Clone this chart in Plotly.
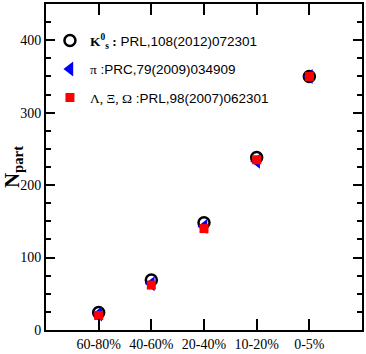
import plotly.graph_objects as go

# centrality classes and N_part values
categories = ["60-80%", "40-60%", "20-40%", "10-20%", "0-5%"]
k0s_npart = [24, 69, 148, 238, 350]
pi_npart = [22, 64, 143, 233, 350]
lam_npart = [20, 62, 140, 235, 350]

names = [
    "<span style='font-family:Liberation Serif'><b>K</b><sup><b>0</b></sup><sub><b>s</b></sub><b> :</b></span> PRL,108(2012)072301",
    "<span style='font-family:Liberation Serif'>π</span> :PRC,79(2009)034909",
    "<span style='font-family:Liberation Serif'>Λ, Ξ, Ω</span> :PRL,98(2007)062301",
]

fig = go.Figure()
fig.add_trace(go.Scatter(
    x=categories, y=k0s_npart, mode="markers", name=names[0], legendgroup="k",
    marker=dict(symbol="circle-open", size=11, color="black", line=dict(width=2.5, color="black")),
))
fig.add_trace(go.Scatter(
    x=categories, y=pi_npart, mode="markers", name=names[1], legendgroup="pi",
    marker=dict(symbol="triangle-left", size=13, color="blue", line=dict(width=0)),
))
fig.add_trace(go.Scatter(
    x=categories, y=lam_npart, mode="markers", name=names[2], legendgroup="lam",
    marker=dict(symbol="square", size=9, color="red", line=dict(width=0)),
))

fig.update_layout(
    width=366, height=354,
    margin=dict(l=44, r=2, t=4, b=21),
    plot_bgcolor="white", paper_bgcolor="white",
    font=dict(family="Liberation Serif", size=13, color="black"),
    legend=dict(
        x=0.0125, y=0.935, xanchor="left", yanchor="top",
        bgcolor="rgba(0,0,0,0)",
        font=dict(family="Liberation Sans", size=13.5, color="black"),
        tracegroupgap=8, itemwidth=30,
    ),
)
fig.update_xaxes(
    type="category", range=[-1, 5],
    showline=True, linecolor="black", linewidth=2, mirror="allticks",
    ticks="inside", ticklen=11, tickwidth=2, tickcolor="black",
    showgrid=False, zeroline=False,
    tickfont=dict(family="Liberation Serif", size=14),
)
fig.update_yaxes(
    range=[0, 450], dtick=100,
    showline=True, linecolor="black", linewidth=2, mirror="allticks",
    ticks="inside", ticklen=9, tickwidth=2, tickcolor="black",
    minor=dict(dtick=25, ticks="inside", ticklen=5, tickwidth=2, tickcolor="black"),
    showgrid=False, zeroline=False,
    tickfont=dict(family="Liberation Serif", size=14),
    title=dict(text="<b>N<sub>part</sub></b>", font=dict(family="Liberation Serif", size=21), standoff=4),
)

fig.write_html("out.html", config={"displayModeBar": False},
               post_script="document.body.style.margin='0';")
